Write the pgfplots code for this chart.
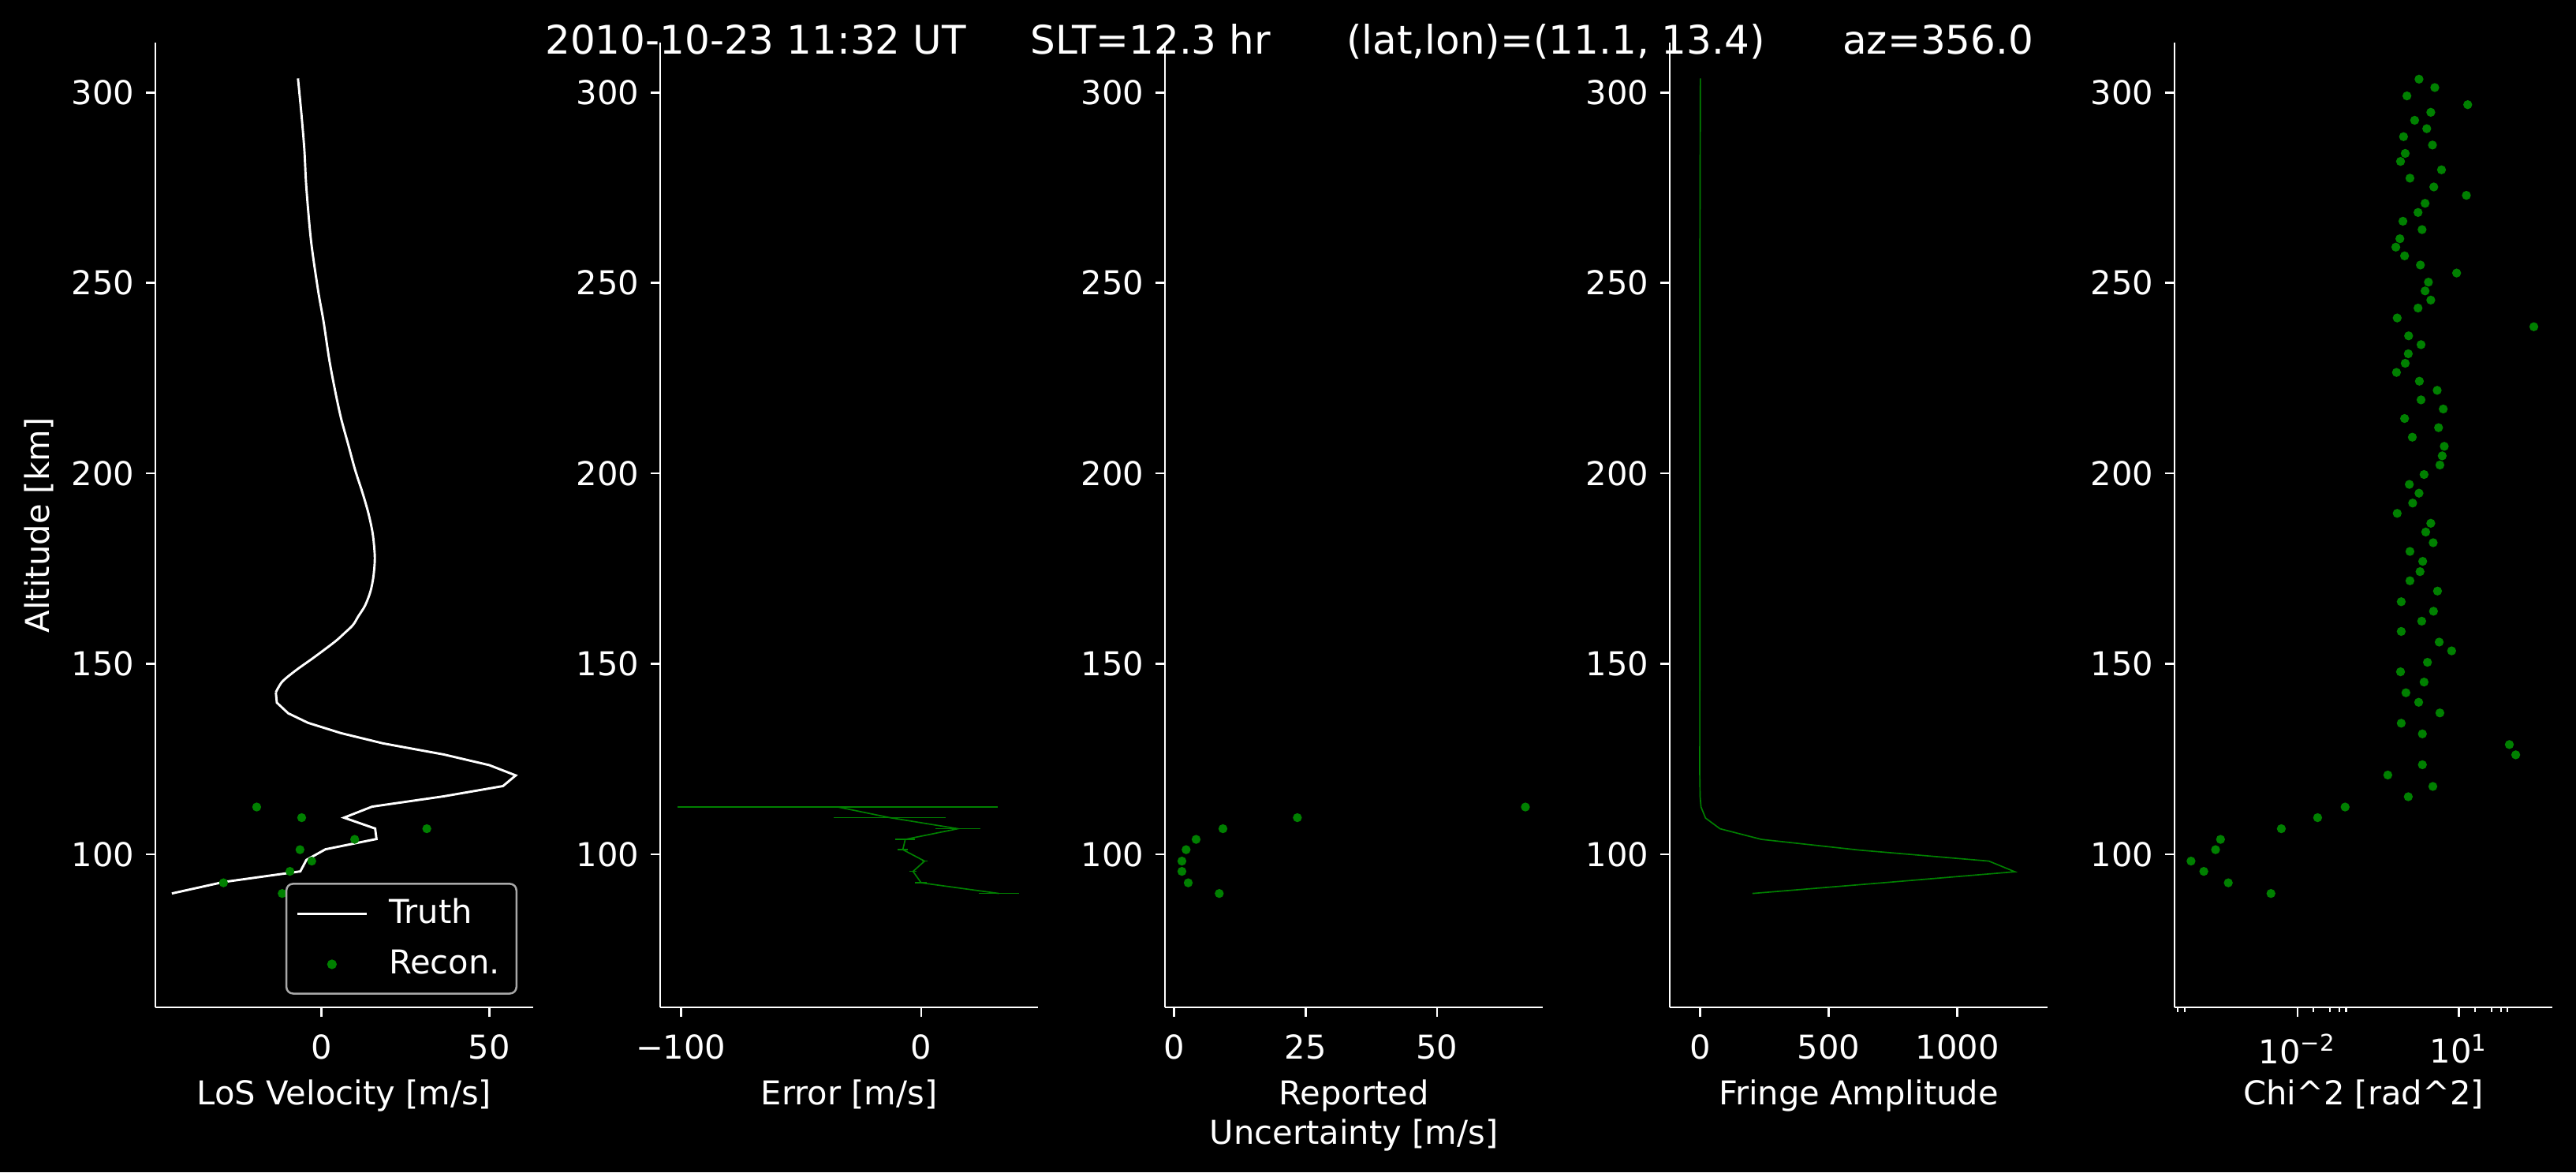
\documentclass[border=0pt]{standalone}
\usepackage{fontspec}
\setmainfont{DejaVu Sans}
\usepackage{pgfplots}
\pgfplotsset{compat=1.18}
\definecolor{mplgreen}{rgb}{0,0.5,0}
\definecolor{legendgray}{gray}{0.66}
\newcommand\tickfont{\fontsize{10}{11.8}\selectfont}
\newcommand\titlefont{\fontsize{12}{14.4}\selectfont}
\pgfplotsset{
  panel/.style={
    scale only axis, width=114.96pt, height=293.52pt,
    anchor=south west,
    axis x line*=bottom, axis y line*=left,
    axis line style={white, line width=0.65pt, -},
    tick align=outside,
    major tick length=2.9pt, minor tick length=1.5pt,
    major tick style={white, line width=0.65pt},
    minor tick style={white, line width=0.5pt},
    ymin=59.8, ymax=313.1,
    ytick={100,150,200,250,300},
    yticklabels={100,150,200,250,300},
    tick label style={text=white, font=\tickfont},
    xticklabel style={yshift=-1.8pt},
    every axis x label/.style={at={(axis description cs:0.5,-0.1006)}, anchor=base, text=white, font=\tickfont},
    scaled ticks=false,
  },
}
\begin{document}
\begin{tikzpicture}
\fill[black] (0,0) rectangle (783.84pt,356.64pt);

% LoS velocity
\begin{axis}[panel, at={(47.28pt,50.16pt)},
  xmin=-49.5, xmax=63.1, xtick={0,50}, xticklabels={0,50},
  xlabel={LoS Velocity [m/s]}, ylabel={Altitude [km]},
  every axis y label/.style={at={(axis description cs:-0.2808,0.5)}, rotate=90, anchor=base, text=white, font=\tickfont},
  legend image code/.code={\draw[mark repeat=2,mark phase=2,#1] plot coordinates {(0pt,0pt) (10.5pt,0pt) (21pt,0pt)};},
  legend cell align=left,
  legend style={at={(axis description cs:1,0)}, anchor=south east, xshift=-4.8pt, yshift=3.9pt,
    fill=black, draw=legendgray, line width=0.6pt, rounded corners=2pt, text=white, font=\tickfont,
    inner xsep=3pt, inner ysep=2.5pt, row sep=2.5pt,
    nodes={inner sep=2pt},
    /tikz/every odd column/.append style={column sep=4.5pt}},
]
\addplot[white, line width=0.7pt] coordinates {
(-13.6,142.5) (-13.3,139.8) (-9.9,137.0) (-4.0,134.5)
(5.8,131.8) (18.4,129.1) (36.4,126.2) (50.0,123.4) (57.9,120.7) (54.1,117.9)
(36.4,115.2) (15.1,112.5) (6.7,109.6) (16.0,106.75) (16.4,104.0) (1.2,101.3)
(-4.5,98.5) (-6.3,95.5) (-29.2,92.7) (-44.6,89.7)
};
\addlegendentry{Truth}
\addplot[white, line width=0.7pt, smooth, tension=0.5, forget plot] coordinates {
(-7.0,303.7) (-6.0,294.6) (-5.1,285.0) (-4.5,275.0) (-3.1,261.0) (-1.0,248.0)
(0.6,240.0) (2.3,230.0) (4.0,222.0) (5.8,214.6) (8.0,207.5) (10.0,201.0)
(12.2,195.0) (14.0,189.5) (15.3,184.0) (15.9,178.0) (15.5,173.0) (14.6,169.0)
(13.0,165.3) (11.0,162.5) (9.4,160.2) (6.8,158.0) (4.0,155.8) (-2.2,151.7)
(-7.6,148.3) (-11.7,145.3) (-13.6,142.5)
};
\addplot[only marks, mark=*, mark size=1.15pt, mplgreen] coordinates {
(-19.3,112.4) (-5.9,109.6) (31.4,106.7) (9.9,103.9) (-6.4,101.2)
(-2.9,98.2) (-9.4,95.5) (-29.2,92.5) (-11.7,89.7)
};
\addlegendentry{Recon.}
\end{axis}

% Error
\begin{axis}[panel, at={(200.88pt,50.16pt)},
  xmin=-108.6, xmax=48.5, xtick={-100,0}, xticklabels={−100,0},
  xlabel={Error [m/s]}]
\addplot[mplgreen, line width=0.4pt,
  error bars/.cd, x dir=both, x explicit, error mark=none,
  error bar style={mplgreen, line width=0.4pt}]
  table[x=err, y=alt, x error=unc] {
alt err unc
112.4 -34.7 66.6
109.6 -13.05 23.25
106.7 15.25 9.35
103.9 -6.7 4.1
101.2 -7.7 2.2
98.2 1.35 1.15
95.5 -3.45 1.45
92.5 -0.1 2.5
89.7 32.3 8.4
};
\end{axis}

% Reported uncertainty
\begin{axis}[panel, at={(354.48pt,50.16pt)},
  xmin=-1.72, xmax=70.1, xtick={0,25,50}, xticklabels={0,25,50},
  xlabel={Reported\\Uncertainty [m/s]},
  xlabel style={align=center, at={(axis description cs:0.5,-0.1415)}}]
\addplot[only marks, mark=*, mark size=1.15pt, mplgreen] coordinates {
(66.8,112.4) (23.45,109.6) (9.3,106.7) (4.2,103.9) (2.3,101.2)
(1.5,98.2) (1.5,95.5) (2.7,92.5) (8.6,89.7)
};
\end{axis}

% Fringe amplitude
\begin{axis}[panel, at={(508.08pt,50.16pt)},
  xmin=-118, xmax=1350, xtick={0,500,1000}, xticklabels={0,500,1000},
  xlabel={Fringe Amplitude}]
\addplot[mplgreen, line width=0.4pt] coordinates {
(1,303.7) (0,280) (-1,250) (-1,200) (-1,150) (-1.5,121.3) (0,115.1)
(3.5,112.4) (21,109.5) (77,106.7) (238,103.9) (617,101.1) (1122,98.2)
(1223,95.4) (709,92.5) (203,89.7)
};
\end{axis}

% Chi^2
\begin{axis}[panel, at={(661.68pt,50.16pt)},
  xmode=log, xmin=5.21e-5, xmax=542,
  xtick={1e-2,1e1}, xticklabels={10\textsuperscript{−2},10\textsuperscript{1}},
  minor xtick={6e-5,8e-5,2e-2,4e-2,6e-2,8e-2,20,40,60,80},
  xlabel={Chi\textasciicircum 2 [rad\textasciicircum 2]}]
\addplot[only marks, mark=*, mark size=1.15pt, mplgreen] table {
x y
1.807 303.5
3.548 301.3
1.079 299.1
14.52 296.8
2.992 294.8
1.500 292.7
2.518 290.5
0.933 288.4
3.214 286.2
1.002 284.0
0.820 281.9
4.732 279.7
1.227 277.5
3.404 275.2
13.71 273.0
2.344 270.9
1.734 268.5
0.908 266.2
2.061 264.0
0.798 261.6
0.671 259.4
0.975 257.1
1.919 254.7
9.036 252.6
2.704 250.2
2.344 247.9
2.992 245.5
1.734 243.4
0.711 240.8
245.5 238.5
1.159 236.1
1.972 233.8
1.143 231.4
1.002 228.9
0.690 226.5
1.837 224.2
3.936 221.8
1.972 219.3
5.093 216.9
0.975 214.4
4.169 212.0
1.358 209.5
5.321 207.1
4.875 204.6
4.416 202.2
2.244 199.7
1.194 197.1
1.807 194.8
1.377 192.2
0.711 189.5
2.992 186.9
2.410 184.6
3.311 181.8
1.227 179.5
2.118 176.9
1.888 174.2
1.227 171.8
3.990 169.1
0.845 166.3
3.357 163.8
2.028 161.2
0.845 158.5
4.285 155.7
7.295 153.4
2.594 150.4
0.820 147.9
2.244 145.2
1.033 142.4
1.782 139.9
4.416 137.1
0.845 134.4
2.089 131.6
86.1 128.8
113.2 126.1
2.089 123.5
0.476 120.8
3.266 117.8
1.143 115.1
0.0767 112.4
0.02366 109.6
0.005012 106.7
0.0003724 103.9
0.0003006 101.2
0.0001054 98.2
0.0001820 95.5
0.0005188 92.5
0.003214 89.7
};
\end{axis}

\begin{scope}[every node/.style={anchor=base west, inner sep=0pt, text=white, font=\titlefont}]
\node at (165.7pt,340.25pt) {2010-10-23 11:32 UT};
\node at (313.3pt,340.25pt) {SLT=12.3 hr};
\node at (409.5pt,340.25pt) {(lat,lon)=(11.1, 13.4)};
\node at (560.5pt,340.25pt) {az=356.0};
\end{scope}
\end{tikzpicture}
\end{document}
